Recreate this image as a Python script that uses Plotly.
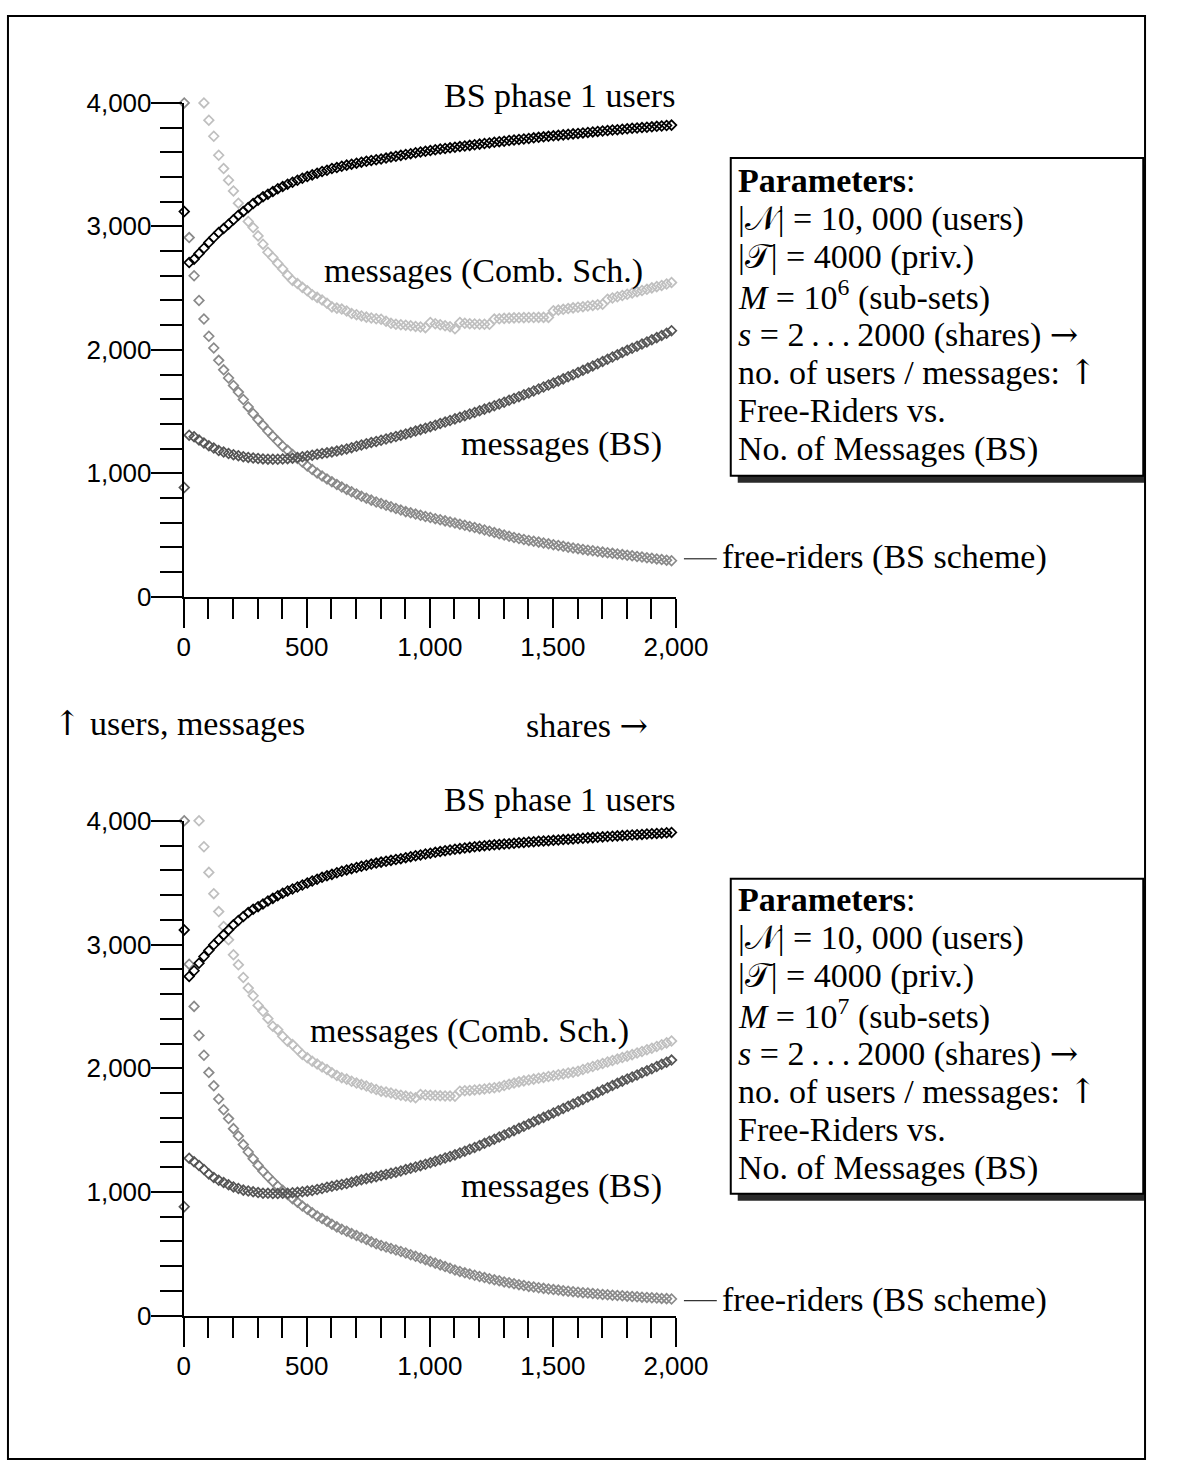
import plotly.graph_objects as go

W, H = 1179, 1475

# ---------------- data ----------------
shares = list(range(2, 2000, 20))  # s = 2, 22, ..., 1982

# top panel (M = 10^6)
top_users = [3120, 2707, 2734, 2780, 2823, 2869, 2910, 2950, 2982, 3018,
             3053, 3091, 3120, 3152, 3185, 3212, 3239, 3261, 3282, 3304,
             3322, 3342, 3358, 3374, 3390, 3403, 3417, 3431, 3444, 3455,
             3468, 3476, 3487, 3496, 3504, 3512, 3520, 3527, 3534, 3540,
             3546, 3553, 3561, 3568, 3575, 3582, 3589, 3596, 3602, 3608,
             3614, 3620, 3626, 3631, 3636, 3641, 3646, 3651, 3656, 3661,
             3666, 3671, 3676, 3681, 3686, 3690, 3695, 3699, 3704, 3708,
             3712, 3717, 3721, 3725, 3729, 3733, 3737, 3741, 3745, 3749,
             3753, 3757, 3761, 3765, 3769, 3772, 3776, 3780, 3783, 3787,
             3790, 3794, 3797, 3800, 3803, 3806, 3810, 3813, 3817, 3820]
top_msgs_bs = [885, 1309, 1296, 1270, 1246, 1224, 1205, 1185, 1172, 1161,
               1151, 1143, 1135, 1129, 1124, 1120, 1117, 1115, 1114, 1114,
               1116, 1119, 1123, 1128, 1134, 1140, 1147, 1154, 1160, 1166,
               1172, 1180, 1189, 1198, 1208, 1219, 1229, 1239, 1249, 1258,
               1268, 1278, 1288, 1298, 1308, 1318, 1330, 1342, 1354, 1366,
               1378, 1390, 1403, 1415, 1428, 1441, 1454, 1467, 1480, 1493,
               1506, 1520, 1534, 1548, 1562, 1576, 1591, 1606, 1621, 1636,
               1651, 1667, 1683, 1699, 1715, 1731, 1748, 1765, 1782, 1799,
               1816, 1834, 1852, 1870, 1888, 1906, 1924, 1942, 1960, 1978,
               1996, 2013, 2030, 2047, 2064, 2081, 2099, 2117, 2135, 2155]
top_free = [4000, 2909, 2600, 2400, 2250, 2110, 2015, 1915, 1838, 1772,
            1712, 1658, 1598, 1538, 1484, 1435, 1389, 1343, 1300, 1259,
            1220, 1186, 1152, 1120, 1092, 1060, 1031, 1003, 979, 955,
            931, 909, 889, 870, 851, 833, 815, 799, 783, 768,
            755, 742, 729, 716, 703, 690, 680, 670, 660, 651,
            643, 633, 624, 615, 606, 597, 588, 579, 570, 561,
            552, 541, 531, 520, 510, 500, 490, 481, 472, 464,
            457, 450, 443, 436, 429, 422, 415, 409, 402, 396,
            390, 384, 378, 373, 367, 362, 357, 352, 347, 342,
            337, 332, 327, 322, 317, 312, 307, 302, 297, 292]
top_comb = [None, None, None, None, 4000, 3860, 3730, 3576, 3468, 3374,
            3287, 3188, 3120, 3040, 2990, 2923, 2856, 2790, 2748, 2700,
            2655, 2605, 2562, 2537, 2506, 2478, 2446, 2425, 2404, 2378,
            2348, 2338, 2330, 2315, 2295, 2285, 2275, 2265, 2258, 2252,
            2248, 2232, 2215, 2208, 2203, 2200, 2195, 2190, 2185, 2180,
            2222, 2212, 2203, 2195, 2187, 2170, 2221, 2215, 2212, 2210,
            2208, 2208, 2207, 2249, 2252, 2255, 2257, 2259, 2260, 2261,
            2262, 2262, 2263, 2263, 2263, 2316, 2322, 2328, 2334, 2340,
            2345, 2350, 2355, 2360, 2365, 2370, 2410, 2420, 2430, 2440,
            2450, 2460, 2470, 2480, 2490, 2502, 2512, 2522, 2533, 2545]

# bottom panel (M = 10^7)
bot_users = [3118, 2742, 2788, 2849, 2903, 2952, 2998, 3038, 3078, 3118,
             3159, 3194, 3226, 3258, 3285, 3306, 3328, 3352, 3373, 3395,
             3414, 3433, 3449, 3465, 3481, 3497, 3513, 3528, 3543, 3555,
             3567, 3580, 3592, 3603, 3613, 3622, 3632, 3641, 3650, 3658,
             3666, 3673, 3680, 3687, 3694, 3702, 3710, 3717, 3724, 3731,
             3738, 3745, 3751, 3758, 3764, 3770, 3775, 3780, 3785, 3790,
             3795, 3799, 3802, 3806, 3809, 3812, 3815, 3818, 3822, 3825,
             3828, 3831, 3834, 3836, 3839, 3842, 3845, 3848, 3850, 3853,
             3856, 3859, 3862, 3864, 3867, 3870, 3873, 3875, 3878, 3880,
             3883, 3885, 3888, 3890, 3893, 3895, 3898, 3900, 3903, 3906]
bot_msgs_bs = [881, 1272, 1245, 1214, 1182, 1145, 1117, 1095, 1076, 1058,
               1041, 1028, 1015, 1008, 1001, 995, 990, 989, 987, 987,
               989, 989, 994, 997, 1002, 1007, 1012, 1020, 1028, 1038,
               1046, 1054, 1061, 1068, 1078, 1088, 1098, 1108, 1116, 1124,
               1133, 1142, 1151, 1160, 1170, 1181, 1191, 1202, 1213, 1224,
               1236, 1248, 1261, 1274, 1287, 1300, 1315, 1330, 1345, 1360,
               1376, 1393, 1410, 1427, 1444, 1461, 1479, 1496, 1514, 1531,
               1549, 1567, 1585, 1603, 1621, 1639, 1657, 1675, 1693, 1711,
               1729, 1748, 1767, 1786, 1805, 1824, 1842, 1860, 1878, 1896,
               1913, 1930, 1946, 1963, 1979, 1996, 2014, 2032, 2049, 2066]
bot_free = [4000, 2841, 2500, 2265, 2105, 1965, 1858, 1752, 1665, 1593,
            1512, 1452, 1383, 1323, 1268, 1215, 1168, 1125, 1085, 1047,
            1013, 980, 946, 918, 886, 860, 833, 806, 785, 763,
            740, 718, 699, 682, 664, 648, 632, 616, 597, 582,
            568, 555, 543, 531, 519, 507, 493, 480, 466, 453,
            439, 425, 411, 397, 383, 369, 358, 347, 337, 327,
            317, 308, 299, 290, 282, 273, 266, 258, 251, 244,
            237, 232, 226, 221, 216, 211, 207, 202, 198, 194,
            190, 186, 183, 179, 176, 172, 169, 166, 164, 161,
            158, 155, 153, 150, 148, 145, 143, 140, 138, 135]
bot_comb = [None, None, None, 4000, 3790, 3583, 3411, 3266, 3145, 3038,
            2917, 2836, 2734, 2648, 2586, 2508, 2460, 2401, 2339, 2312,
            2258, 2218, 2191, 2151, 2112, 2085, 2056, 2035, 2010, 1990,
            1963, 1942, 1924, 1912, 1895, 1880, 1868, 1856, 1840, 1828,
            1815, 1808, 1800, 1790, 1782, 1775, 1768, 1762, 1788, 1784,
            1781, 1779, 1777, 1776, 1775, 1774, 1815, 1818, 1821, 1825,
            1829, 1833, 1838, 1843, 1849, 1860, 1870, 1880, 1890, 1898,
            1905, 1912, 1919, 1926, 1933, 1940, 1947, 1954, 1961, 1968,
            1976, 1990, 2002, 2014, 2026, 2038, 2050, 2062, 2074, 2086,
            2098, 2110, 2123, 2136, 2149, 2162, 2176, 2190, 2205, 2220]

x_ticks = [0, 500, 1000, 1500, 2000]
y_ticks = [0, 1000, 2000, 3000, 4000]

ARR_R = '<span style="font-family:DejaVu Serif">→</span>'
ARR_U = '<span style="font-family:DejaVu Serif">↑</span>'

top_params = ["<b>Parameters</b>:",
              "|𝒩| = 10, 000 (users)",
              "|𝒯| = 4000 (priv.)",
              "<i>M</i> = 10<sup>6</sup> (sub-sets)",
              "<i>s</i> = 2\u2009.\u2009.\u2009.\u20092000 (shares) " + ARR_R,
              "no. of users / messages: " + ARR_U,
              "Free-Riders vs.",
              "No. of Messages (BS)"]
bot_params = ["<b>Parameters</b>:",
              "|𝒩| = 10, 000 (users)",
              "|𝒯| = 4000 (priv.)",
              "<i>M</i> = 10<sup>7</sup> (sub-sets)",
              "<i>s</i> = 2\u2009.\u2009.\u2009.\u20092000 (shares) " + ARR_R,
              "no. of users / messages: " + ARR_U,
              "Free-Riders vs.",
              "No. of Messages (BS)"]

# ---------------- placement helpers ----------------
# the photographed page shows the figure slightly scaled and shifted;
# these map wanted picture pixels to paper fractions.
SX, BX = 0.9696, 5.6
SY, BY = 0.9798, 14.1

def px(o):
    f = (o - BX) / SX
    return min(max(f, 1.0), W - 1.0) / W

def py(o):
    f = (o - BY) / SY
    return 1 - min(max(f, 1.0), H - 1.0) / H

C_COMB = "#bfbfbf"
C_FREE = "#8a8a8a"
C_MSGS = "#555555"
C_USER = "#000000"
SERIF = "Liberation Serif"
SANS = "Liberation Sans"
TXT = 34

fig = go.Figure()

panels = [
    ("x", "y", top_comb, top_free, top_msgs_bs, top_users),
    ("x2", "y2", bot_comb, bot_free, bot_msgs_bs, bot_users),
]
for xa, ya, comb, free, msgs, users in panels:
    for vals, col, nm in [(comb, C_COMB, "messages (Comb. Sch.)"),
                          (free, C_FREE, "free-riders (BS scheme)"),
                          (msgs, C_MSGS, "messages (BS)"),
                          (users, C_USER, "BS phase 1 users")]:
        fig.add_trace(go.Scatter(
            x=shares, y=vals, mode="markers", name=nm, xaxis=xa, yaxis=ya,
            cliponaxis=False, showlegend=False,
            marker=dict(symbol="diamond-open", size=7.4, color=col,
                        line=dict(width=1.7, color=col))))

def xaxis_style(anchor, dom):
    return dict(domain=dom, anchor=anchor, range=[0, 2000],
                tickvals=x_ticks, tickformat=",d",
                showline=True, linecolor="black", linewidth=2,
                ticks="outside", ticklen=29, tickwidth=2, tickcolor="black",
                minor=dict(dtick=100, tick0=0, ticks="outside", ticklen=20.5,
                           tickwidth=2, tickcolor="black"),
                showgrid=False, zeroline=False, ticklabelstandoff=-3,
                tickfont=dict(family=SANS, size=26, color="black"))

def yaxis_style(anchor, dom):
    return dict(domain=dom, anchor=anchor, range=[0, 4000],
                tickvals=y_ticks, tickformat=",d",
                showline=True, linecolor="black", linewidth=2,
                ticks="outside", ticklen=31, tickwidth=2, tickcolor="black",
                minor=dict(dtick=200, tick0=0, ticks="outside", ticklen=21.5,
                           tickwidth=2, tickcolor="black"),
                showgrid=False, zeroline=False, ticklabelstandoff=-6,
                tickfont=dict(family=SANS, size=26, color="black"))

xdom = [px(183), px(677)]
fig.update_layout(
    width=W, height=H, autosize=False,
    margin=dict(l=0, r=0, t=0, b=0),
    paper_bgcolor="white", plot_bgcolor="white",
    xaxis=xaxis_style("y", xdom),
    yaxis=yaxis_style("x", [py(596), py(102)]),
    xaxis2=xaxis_style("y2", xdom),
    yaxis2=yaxis_style("x2", [py(1315), py(820)]),
)

annots = []
shapes = []

def label(text, x, y, xanchor="left", size=TXT):
    annots.append(dict(text=text, x=px(x), y=py(y), xref="paper", yref="paper",
                       xanchor=xanchor, yanchor="middle", showarrow=False,
                       font=dict(family=SERIF, size=size, color="black")))

def hline(x0, x1, y, width=1):
    shapes.append(dict(type="line", xref="paper", yref="paper",
                       x0=px(x0), x1=px(x1), y0=py(y), y1=py(y),
                       line=dict(color="black", width=width)))

# in-plot labels, top panel
label("BS phase 1 users", 678, 95, xanchor="right")
label("messages (Comb. Sch.)", 322, 270)
label("messages (BS)", 459, 443)
label("free-riders (BS scheme)", 721, 556)
hline(685, 718, 558)
# bottom panel
label("BS phase 1 users", 678, 799, xanchor="right")
label("messages (Comb. Sch.)", 308, 1030)
label("messages (BS)", 459, 1185)
label("free-riders (BS scheme)", 721, 1299)
hline(685, 718, 1300)
# axis captions between panels
label(ARR_U + " users, messages", 50, 722)
label("shares " + ARR_R, 524, 724)

# parameter boxes
for top, bottom, first, lines in [(157, 475, 180, top_params),
                                  (878, 1193, 899, bot_params)]:
    shapes.append(dict(type="rect", xref="paper", yref="paper",
                       x0=px(739), x1=px(1160), y0=py(bottom + 7), y1=py(top + 7),
                       fillcolor="#2a2a2a", line=dict(width=0)))
    shapes.append(dict(type="rect", xref="paper", yref="paper",
                       x0=px(732), x1=px(1146), y0=py(bottom), y1=py(top),
                       fillcolor="white", line=dict(color="black", width=2)))
    for i, t in enumerate(lines):
        label(t, 737, first + 38.3 * i)

# outer frame
shapes.append(dict(type="rect", xref="paper", yref="paper",
                   x0=px(3), x1=px(1176), y0=py(1472), y1=py(3),
                   line=dict(color="black", width=2), fillcolor="rgba(0,0,0,0)"))

fig.update_layout(annotations=annots, shapes=shapes)

post = ("document.body.style.margin='0';document.body.style.padding='0';"
        "document.documentElement.style.overflow='hidden';"
        "document.body.style.overflow='hidden';")
fig.write_html("out.html", config={"responsive": False, "displayModeBar": False},
               post_script=post)
